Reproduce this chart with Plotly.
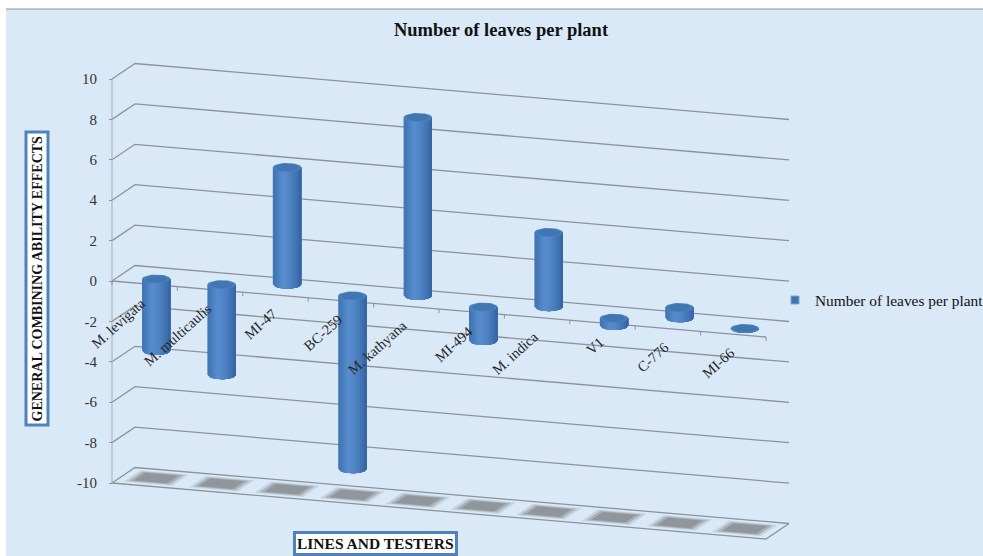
import numpy as np
import plotly.graph_objects as go

# ---- data ----
categories = ["M. levigata", "M. multicaulis", "MI-47", "BC-259", "M. kathyana",
              "MI-494", "M. indica", "V1", "C-776", "MI-66"]
values = [-3.69, -4.61, 5.93, -8.71, 8.96, -1.81, 3.82, -0.51, 0.66, -0.10]
tick_values = [-10, -8, -6, -4, -2, 0, 2, 4, 6, 8, 10]
tick_labels = ["-10", "-8", "-6", "-4", "-2", "0", "2", "4", "6", "8", "10"]
series_name = "Number of leaves per plant"

# ---- oblique projection of the Excel 3-D box, in data units ----
W, H = 983, 556
PX_X, PX_Y = 65.4, 20.2      # px per category, px per value unit
X0, Y0 = 112, 281            # px of front-left corner at category 0, value 0
SLOPE = 5.6 / PX_Y           # drop per category
DX, DY = 23 / PX_X, 15.5 / PX_Y   # shift from front (d=0) to back (d=1)


def px(c, d=0.0):
    return c + DX * d


def py(c, v, d=0.0):
    return v - SLOPE * c + DY * d


SERIF = "Liberation Serif"
GRID = "#8d9399"
fig = go.Figure()


def line(xs, ys, color=GRID, width=1.3):
    fig.add_trace(go.Scatter(x=xs, y=ys, mode="lines", hoverinfo="skip", showlegend=False,
                             line=dict(color=color, width=width)))


# walls
n = len(categories)
for t in tick_values:
    line([px(0), px(0, 1), px(n, 1)], [py(0, t), py(0, t, 1), py(n, t, 1)])
line([px(0), px(0)], [py(0, -10), py(0, 10)], "#a4abb2", 1)
# floor front and right edge
line([px(0), px(n), px(n, 1)], [py(0, -10), py(n, -10), py(n, -10, 1)])
# zero axis with category ticks
line([px(0), px(n)], [py(0, 0), py(n, 0)])
for i in range(n + 1):
    line([px(i), px(i)], [py(i, 0), py(i, -0.2)], GRID, 1)

# floor shadows (soft edge from nested polygons)
for grow, alpha in [(1.18, 0.22), (1.0, 0.4), (0.82, 0.55)]:
    sx, sy = [], []
    hc, hd = 0.315 * grow, 0.305 * grow
    for i in range(n):
        c = i + 0.5
        corners = [(c - hc, .5 - hd), (c + hc, .5 - hd), (c + hc, .5 + hd), (c - hc, .5 + hd), (c - hc, .5 - hd)]
        sx += [px(a, b) for a, b in corners] + [None]
        sy += [py(a, -10, b) for a, b in corners] + [None]
    fig.add_trace(go.Scatter(x=sx, y=sy, mode="lines", fill="toself", hoverinfo="skip", showlegend=False,
                             line=dict(width=0), fillcolor=f"rgba(125,128,132,{alpha})"))

# cylinders
HALF_W = 14.2 / PX_X
ELL = 4.5 / PX_Y
GAP = 3 / PX_Y
stops = [(0.0, (66, 116, 176)), (0.12, (70, 122, 186)), (0.35, (88, 142, 208)),
         (0.6, (80, 132, 196)), (0.85, (64, 114, 178)), (1.0, (52, 98, 158))]


def shade(t):
    xs = [s[0] for s in stops]
    return "rgb(%d,%d,%d)" % tuple(np.interp(t, xs, [s[1][k] for s in stops]) for k in range(3))


def ends(i):
    v = values[i]
    start = np.sign(v) * min(GAP, abs(v))
    c = i + 0.5
    a, b = py(c, start, .5), py(c, v, .5)
    return c, max(a, b), min(a, b)


# painted left to right, each strip running to the right edge, so no seams show
STRIPS = 14
edges = np.linspace(-1, 1, STRIPS + 1)
for s in range(STRIPS):
    us = np.linspace(edges[s], 1, 12)
    xs, ys = [], []
    for i in range(n):
        c, hi, lo = ends(i)
        cx = px(c, .5)
        xs += list(cx + HALF_W * us) + list(cx + HALF_W * us[::-1]) + [None]
        ys += [hi] * len(us) + list(lo - ELL * np.sqrt(np.clip(1 - us[::-1] ** 2, 0, 1))) + [None]
    col = shade((s + .5) / STRIPS)
    fig.add_trace(go.Scatter(x=xs, y=ys, mode="lines", fill="toself", fillcolor=col, hoverinfo="skip",
                             showlegend=False, line=dict(width=0)))

# top caps
th = np.linspace(0, 2 * np.pi, 40)
for scale, col in [(1.0, "#4a7fbd"), (0.8, "#4176b3")]:
    xs, ys = [], []
    for i in range(n):
        c, hi, lo = ends(i)
        xs += list(px(c, .5) + scale * HALF_W * np.cos(th)) + [None]
        ys += list(hi + scale * ELL * np.sin(th)) + [None]
    fig.add_trace(go.Scatter(x=xs, y=ys, mode="lines", fill="toself", fillcolor=col, hoverinfo="skip",
                             showlegend=False, line=dict(width=0)))

# legend entry
fig.add_trace(go.Scatter(x=[None], y=[None], mode="markers", name=series_name, hoverinfo="skip",
                         marker=dict(symbol="square", size=8, color="#3f74b4", line=dict(color="#7fa6d3", width=1))))

# category labels
annotations = []
for i, name in enumerate(categories):
    c = i + 0.5
    annotations.append(dict(x=px(c), y=py(c, 0), xref="x", yref="y", text=name, showarrow=False,
                            textangle=-42, xanchor="right", yanchor="top", xshift=7, yshift=-8,
                            font=dict(family=SERIF, size=14.5, color="#262626")))

# boxed axis titles
annotations.append(dict(x=37 / W, y=1 - 278.5 / H, xref="paper", yref="paper", showarrow=False,
                        xanchor="center", yanchor="middle",
                        text="<b>GENERAL COMBINING ABILITY EFFECTS</b>", textangle=-90,
                        font=dict(family=SERIF, size=14, color="#111111"),
                        bgcolor="white", bordercolor="#4f81bd", borderwidth=3, borderpad=2))
annotations.append(dict(x=375 / W, y=1 - 543.5 / H, xref="paper", yref="paper", showarrow=False,
                        xanchor="center", yanchor="middle",
                        text="<b>LINES AND TESTERS</b>",
                        font=dict(family=SERIF, size=15.5, color="#111111"),
                        bgcolor="white", bordercolor="#4f81bd", borderwidth=3, borderpad=1))

fig.update_layout(
    width=W, height=H, autosize=False,
    margin=dict(l=0, r=0, t=0, b=0, autoexpand=False),
    paper_bgcolor="white", plot_bgcolor="rgba(0,0,0,0)",
    title=dict(text="<b>Number of leaves per plant</b>", x=501 / W, y=1 - 30 / H,
               xanchor="center", yanchor="middle", font=dict(family=SERIF, size=18.5, color="#111111")),
    xaxis=dict(range=[-X0 / PX_X, (W - X0) / PX_X], visible=False, fixedrange=True),
    yaxis=dict(range=[(Y0 - H) / PX_Y, Y0 / PX_Y], anchor="free", position=X0 / W, showgrid=False,
               zeroline=False, showline=False, tickmode="array", tickvals=tick_values, ticktext=tick_labels,
               ticks="outside", ticklen=3, tickcolor=GRID, ticklabelstandoff=9, fixedrange=True,
               tickfont=dict(family=SERIF, size=15, color="#333333")),
    showlegend=True,
    legend=dict(x=775 / W, y=1 - 300.5 / H, xanchor="left", yanchor="middle", bgcolor="rgba(0,0,0,0)",
                font=dict(family=SERIF, size=15.4, color="#111111"), borderwidth=0),
    annotations=annotations,
    shapes=[dict(type="rect", xref="paper", yref="paper", x0=6 / W, x1=1, y0=0, y1=1 - 9 / H, layer="below",
                 fillcolor="#d9e9f8", line=dict(width=0)),
            dict(type="line", xref="paper", yref="paper", x0=6 / W, x1=1, y0=1 - 9 / H, y1=1 - 9 / H, layer="below",
                 line=dict(color="#8a9299", width=1))],
)
fig.write_html("out.html", config={"displayModeBar": False},
               post_script="document.body.style.margin='0';document.body.style.overflow='hidden';")
